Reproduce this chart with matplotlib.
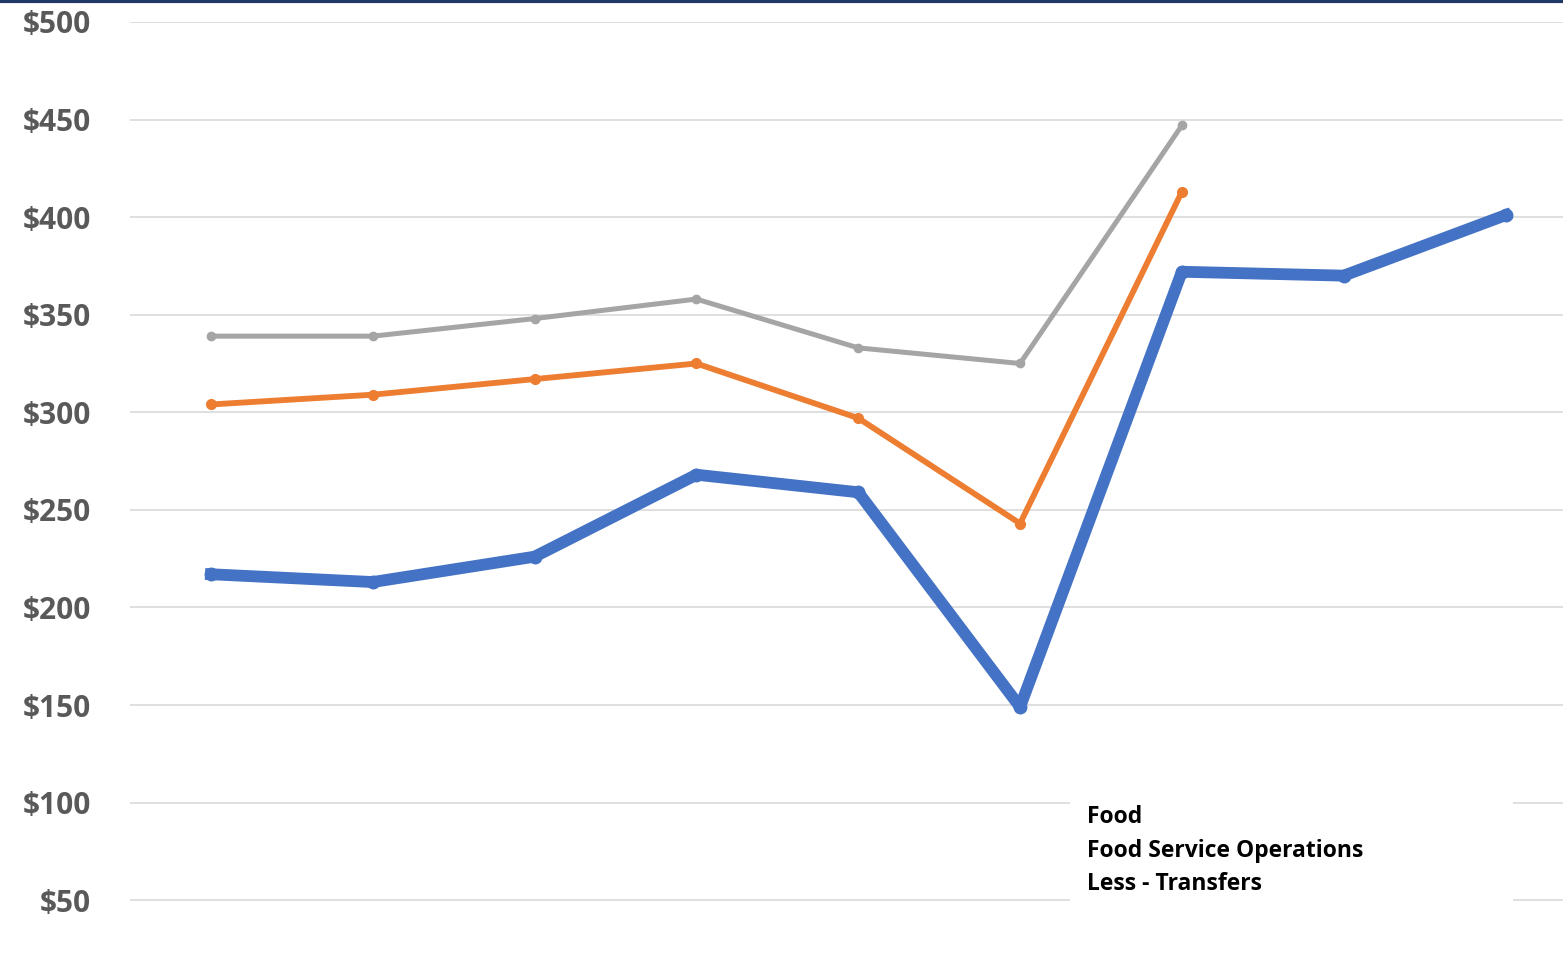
import numpy as np
import matplotlib.pyplot as plt
from matplotlib.lines import Line2D

# series values by period (NaN where a series has no value)
periods = list(range(9))
food = [217, 213, 226, 268, 259, 149, 372, 370, 401]
food_service = [304, 309, 317, 325, 297, 243, 413, np.nan, np.nan]
less_transfers = [339, 339, 348, 358, 333, 325, 447, np.nan, np.nan]
series_names = ["Food", "Food Service Operations", "Less - Transfers"]
y_ticks = [0, 50, 100, 150, 200, 250, 300, 350, 400, 450, 500]

fig = plt.figure(figsize=(15.63, 9.8), dpi=100)
ax = fig.add_axes([0.0832, -0.0181, 0.9318, 0.9957])

ax.plot(periods, less_transfers, color="#A5A5A5", lw=3.6, marker="o", ms=6,
        solid_joinstyle="round", label=series_names[2], zorder=3)
ax.plot(periods, food_service, color="#ED7D31", lw=4.2, marker="o", ms=7,
        solid_joinstyle="round", label=series_names[1], zorder=4)
ax.plot(periods, food, color="#4472C4", lw=8.5, marker="o", ms=9,
        solid_joinstyle="round", label=series_names[0], zorder=5)

ax.set_xlim(-0.5, 8.5)
ax.set_ylim(0, 500)
ax.set_yticks(y_ticks)
ax.set_yticklabels([f"${v}" for v in y_ticks])
ax.set_xticks([])
ax.grid(axis="y", color="#D9D9D9", lw=1.2)
ax.set_axisbelow(True)
for s in ax.spines.values():
    s.set_visible(False)
ax.tick_params(axis="y", length=0, pad=28, labelsize=21.5, labelcolor="#595959")
for t in ax.get_yticklabels():
    t.set_fontweight("bold")
    t.set_fontfamily("Open Sans")

# legend without line keys
handles = [Line2D([], [], alpha=0) for _ in series_names]
leg = ax.legend(handles, series_names, loc="upper left",
                bbox_to_anchor=(0.6846, 0.0714, 0.2834, 0.1245),
                bbox_transform=fig.transFigure, mode="expand",
                handlelength=0, handletextpad=0, borderpad=0.75, borderaxespad=0,
                labelspacing=0.42, fancybox=False, framealpha=1,
                edgecolor="none", facecolor="white",
                prop={"family": "Open Sans", "weight": "bold", "size": 16.5})
leg.set_zorder(6)

# dark rule across the top edge
fig.add_artist(Line2D([0, 1], [0.999, 0.999], transform=fig.transFigure,
                      color="#1F3864", lw=3))

fig.savefig("out.png", dpi=100)
